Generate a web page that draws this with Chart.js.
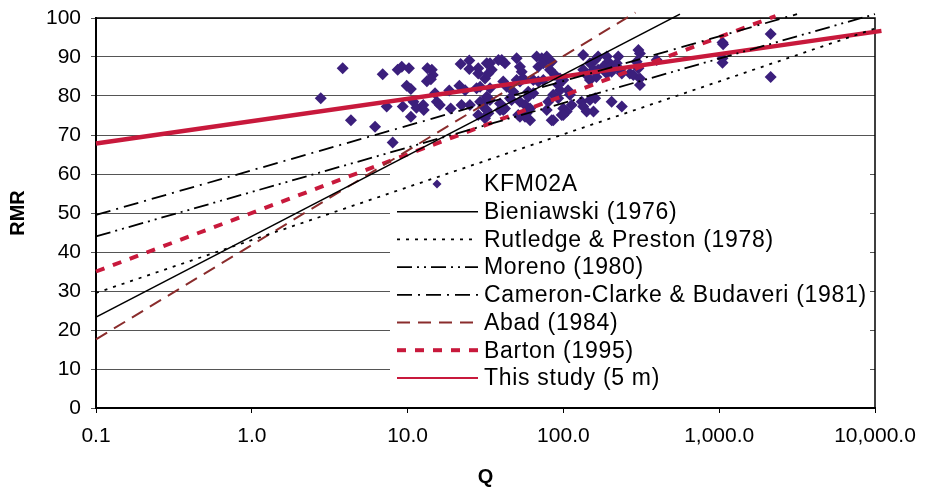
<!DOCTYPE html>
<html>
<head>
<meta charset="utf-8">
<script src="https://cdn.jsdelivr.net/npm/chart.js@4/dist/chart.umd.min.js"></script>
<style>
  html, body { margin: 0; padding: 0; background: #fff; }
  #wrap { width: 930px; height: 490px; }
</style>
</head>
<body>
<div id="wrap"><canvas id="rmrChart" width="930" height="490"></canvas></div>
<script>
const kfmQ = [
  2.77, 3.83, 4.33, 6.18, 6.92, 8.02, 7.34, 8.64, 9.17, 10.2,
  9.87, 10.5, 9.31, 10.5, 10.9, 11.4, 12.6, 12.7, 13.4, 14.3,
  14.5, 13.3, 14.1, 15.0, 15.4, 16.1, 18.5, 18.9, 21.9, 24.9,
  24.9, 21.5, 23.4, 22.2, 25.1, 28.4, 28.4, 27.7, 28.4, 32.2,
  34.7, 31.4, 29.2, 33.8, 32.2, 30.6, 33.0, 40.2, 42.2, 41.1,
  43.3, 39.2, 42.2, 45.4, 50.1, 52.6, 54.0, 50.1, 52.6, 55.3,
  47.7, 52.6, 56.7, 61.1, 58.1, 52.6, 61.1, 59.5, 64.1, 59.5,
  67.4, 72.6, 69.0, 64.1, 69.0, 74.3, 74.3, 78.2, 84.1, 82.0,
  88.3, 95.1, 92.7, 99.8, 86.1, 92.7, 80.0, 78.2, 84.1, 97.5,
  95.1, 107, 110, 99.8, 105, 113, 134, 134, 141, 148,
  160, 167, 190, 194, 225, 156, 167, 180, 190, 148,
  131, 148, 134, 141, 156, 199, 204, 220, 231, 237,
  204, 237, 267, 281, 303, 310, 295, 303, 310, 310,
  397, 1050, 1060, 1050, 1050, 2140, 2140,
  29.2, 30.6, 32.2, 33.8, 31.4, 39.2, 41.1, 38.3, 33.0, 33.8,
  46.5, 51.3, 56.7, 86.1, 99.8, 163, 160
];
const kfmRMR = [
  79.4, 87.1, 73.8, 72.1, 85.6, 68.1, 77.3, 86.7, 87.5, 87.1,
  82.6, 81.8, 77.3, 74.7, 78.5, 77.0, 77.7, 76.4, 87.1, 86.7,
  85.4, 83.8, 84.3, 80.7, 78.5, 77.7, 81.4, 76.8, 88.2, 89.1,
  86.9, 82.6, 81.5, 77.7, 77.7, 87.1, 85.8, 82.0, 75.1, 88.4,
  86.7, 84.5, 82.4, 82.0, 79.8, 78.1, 75.6, 89.2, 88.4, 83.7,
  82.4, 78.1, 76.8, 79.4, 89.7, 87.5, 86.2, 84.1, 83.7, 84.5,
  81.1, 78.5, 77.7, 76.8, 75.6, 74.7, 73.8, 81.1, 80.7, 79.8,
  90.1, 89.7, 87.5, 84.1, 83.7, 84.1, 88.4, 90.1, 88.8, 86.7,
  85.4, 84.5, 82.8, 84.1, 80.3, 79.4, 78.5, 76.4, 73.8, 75.1,
  81.5, 81.5, 80.3, 76.8, 76.0, 77.7, 90.5, 86.7, 85.4, 88.4,
  89.2, 90.1, 90.1, 88.8, 90.1, 86.7, 86.7, 87.5, 85.8, 84.1,
  78.5, 79.0, 77.3, 76.0, 76.0, 87.5, 86.2, 88.4, 86.7, 85.8,
  78.5, 77.3, 85.8, 85.4, 91.8, 90.9, 88.8, 87.1, 84.5, 82.8,
  89.2, 93.7, 93.3, 89.7, 88.5, 95.9, 84.9,
  78.5, 77.3, 76.4, 79.0, 74.3, 76.4, 76.4, 89.2, 85.8, 88.4,
  79.0, 75.1, 74.7, 73.8, 75.1, 84.9, 79.4
];

// Published RMR-Q relations, end points
const bieniawskiQ = [0.1, 560];    const bieniawskiRMR = [23.3, 101];
const rutledgeQ = [0.1, 10000];    const rutledgeRMR = [29.5, 97.3];
const morenoQ = [0.1, 10000];      const morenoRMR = [44, 101];
const cameronQ = [0.1, 3160];      const cameronRMR = [49.5, 101];
const abadQ = [0.1, 290];          const abadRMR = [17.6, 101.4];
const bartonQ = [0.1, 2300];       const bartonRMR = [35, 100.5];
const thisStudyQ = [0.1, 11000];   const thisStudyRMR = [67.8, 96.7];

const xTickValues = [0.1, 1, 10, 100, 1000, 10000];
const xTickLabels = ['0.1', '1.0', '10.0', '100.0', '1,000.0', '10,000.0'];

const FONT = 'Liberation Sans, Arial, sans-serif';

function pairs(xs, ys) {
    return xs.map(function (x, i) { return { x: x, y: ys[i] }; });
}

function relation(label, xs, ys, color, width, dash, legendWidth) {
    return {
        label: label,
        data: pairs(xs, ys),
        showLine: true,
        borderColor: color,
        backgroundColor: color,
        borderWidth: width,
        borderDash: dash,
        legendWidth: legendWidth || width,
        pointRadius: 0,
        clip: false,
        order: 0
    };
}

// White legend box inside the plot, lines drawn on top of it
const legendBox = { left: 390, top: 168, right: 870, bottom: 398, firstRow: 184, rowGap: 27.7 };

const insideLegend = {
    id: 'insideLegend',
    beforeDatasetsDraw: function (chart) {
        const ctx = chart.ctx;
        const a = chart.chartArea;
        ctx.save();
        ctx.fillStyle = '#fff';
        ctx.fillRect(legendBox.left, legendBox.top, legendBox.right - legendBox.left, legendBox.bottom - legendBox.top);
        // plot frame (top and right)
        ctx.strokeStyle = '#000';
        ctx.lineWidth = 1.5;
        ctx.beginPath();
        ctx.moveTo(a.left, a.top);
        ctx.lineTo(a.right, a.top);
        ctx.lineTo(a.right, a.bottom);
        ctx.stroke();
        ctx.restore();
    },
    afterDatasetsDraw: function (chart) {
        const ctx = chart.ctx;
        ctx.save();
        ctx.font = '23px ' + FONT;
        ctx.textBaseline = 'middle';
        ctx.fillStyle = '#000';
        if ('letterSpacing' in ctx) ctx.letterSpacing = '0.7px';
        chart.data.datasets.forEach(function (ds, i) {
            const y = legendBox.firstRow + i * legendBox.rowGap;
            if (ds.showLine) {
                ctx.save();
                ctx.strokeStyle = ds.borderColor;
                ctx.lineWidth = ds.legendWidth;
                ctx.setLineDash(ds.borderDash || []);
                ctx.beginPath();
                ctx.moveTo(397, y);
                ctx.lineTo(478, y);
                ctx.stroke();
                ctx.restore();
            } else {
                ctx.save();
                ctx.fillStyle = ds.backgroundColor;
                ctx.beginPath();
                ctx.moveTo(437, y - 4.5);
                ctx.lineTo(441.5, y);
                ctx.lineTo(437, y + 4.5);
                ctx.lineTo(432.5, y);
                ctx.closePath();
                ctx.fill();
                ctx.restore();
            }
            ctx.fillText(ds.label, 484, y + 1);
        });
        ctx.restore();
    }
};

new Chart(document.getElementById('rmrChart'), {
    type: 'scatter',
    data: {
        datasets: [
            {
                label: 'KFM02A',
                data: pairs(kfmQ, kfmRMR),
                pointStyle: 'rectRot',
                pointRadius: 6,
                pointHoverRadius: 6,
                backgroundColor: '#3b1f7c',
                borderColor: '#3b1f7c',
                borderWidth: 0,
                order: 1
            },
            relation('Bieniawski (1976)', bieniawskiQ, bieniawskiRMR, '#000', 1.6, []),
            relation('Rutledge & Preston (1978)', rutledgeQ, rutledgeRMR, '#000', 1.8, [3, 6]),
            relation('Moreno (1980)', morenoQ, morenoRMR, '#000', 1.8, [15, 5, 2, 5, 2, 5]),
            relation('Cameron-Clarke & Budaveri (1981)', cameronQ, cameronRMR, '#000', 1.8, [15, 6, 2, 6]),
            relation('Abad (1984)', abadQ, abadRMR, '#8a2c2c', 2, [13, 8]),
            relation('Barton (1995)', bartonQ, bartonRMR, '#c8193c', 4, [9, 9]),
            relation('This study (5 m)', thisStudyQ, thisStudyRMR, '#c8193c', 4.5, [], 2)
        ]
    },
    options: {
        responsive: false,
        animation: false,
        devicePixelRatio: 1,
        layout: { padding: { left: 0, top: 18, right: 55, bottom: 0 } },
        plugins: {
            legend: { display: false },
            tooltip: { enabled: false }
        },
        scales: {
            x: {
                type: 'logarithmic',
                min: 0.1,
                max: 10000,
                afterBuildTicks: function (scale) {
                    scale.ticks = xTickValues.map(function (v) { return { value: v }; });
                },
                afterFit: function (scale) {
                    scale.height = 82;
                    scale.paddingLeft = 0;
                    scale.paddingRight = 0;
                },
                ticks: {
                    autoSkip: false,
                    maxRotation: 0,
                    padding: 11,
                    color: '#000',
                    font: { family: FONT, size: 21 },
                    callback: function (value, index) { return xTickLabels[index]; }
                },
                grid: { drawOnChartArea: false, drawTicks: true, tickLength: 5, color: '#000' },
                border: { color: '#000', width: 2 },
                title: {
                    display: true,
                    text: 'Q',
                    color: '#000',
                    font: { family: FONT, size: 20, weight: 'bold' },
                    padding: { top: 0, bottom: 1 }
                }
            },
            y: {
                min: 0,
                max: 100,
                afterFit: function (scale) {
                    scale.width = 96;
                    scale.paddingTop = 0;
                    scale.paddingBottom = 0;
                },
                ticks: {
                    stepSize: 10,
                    padding: 10,
                    color: '#000',
                    font: { family: FONT, size: 21 }
                },
                grid: { color: '#555', lineWidth: 1, tickLength: 5, drawTicks: true },
                border: { color: '#000', width: 2 },
                title: {
                    display: true,
                    text: 'RMR',
                    color: '#000',
                    font: { family: FONT, size: 20, weight: 'bold' },
                    padding: { top: 6, bottom: 0 }
                }
            }
        }
    },
    plugins: [insideLegend]
});
</script>
</body>
</html>
